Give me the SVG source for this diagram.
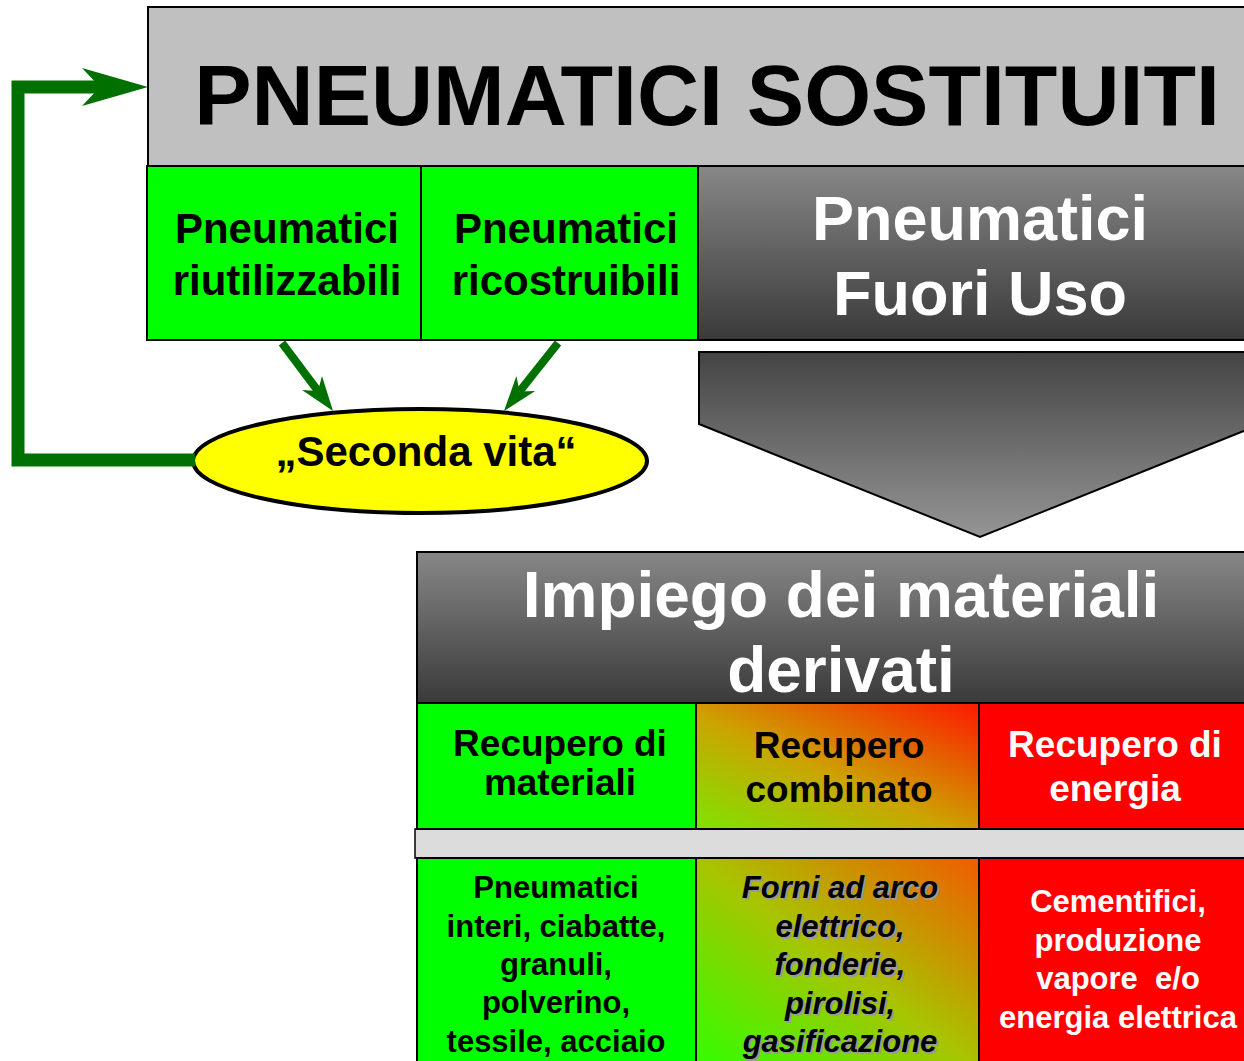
<svg xmlns="http://www.w3.org/2000/svg" width="1244" height="1061" viewBox="0 0 1244 1061">
<defs>
<linearGradient id="gDark" x1="0" y1="0" x2="0" y2="1">
<stop offset="0" stop-color="#878787"/>
<stop offset="1" stop-color="#3a3a3a"/>
</linearGradient>
<linearGradient id="gArrow" x1="0" y1="0" x2="0" y2="1">
<stop offset="0" stop-color="#444444"/>
<stop offset="1" stop-color="#959595"/>
</linearGradient>
<linearGradient id="gComb1" x1="0" y1="1" x2="1" y2="0">
<stop offset="0" stop-color="#7ee400"/>
<stop offset="0.45" stop-color="#cca400"/>
<stop offset="1" stop-color="#ff1800"/>
</linearGradient>
<linearGradient id="gComb2" x1="0" y1="1" x2="1" y2="0">
<stop offset="0" stop-color="#30ff00"/>
<stop offset="0.5" stop-color="#a8c400"/>
<stop offset="1" stop-color="#f05c00"/>
</linearGradient>
</defs>
<style>
.t{font-family:"Liberation Sans",Arial,sans-serif;font-weight:bold;text-anchor:middle}
.bx{stroke:#000;stroke-width:2}
.w{fill:#fff}
.k{fill:#000}
.sh{fill:#9a9a9a}
.conn{fill:none;stroke:#007000;stroke-linejoin:miter}
.head{fill:#007000}
</style>
<rect width="1244" height="1061" fill="#fff"/>

<g id="node-sostituiti">
<rect class="bx" x="148" y="7" width="1110" height="159" fill="#c0c0c0"/>
<text class="t k" x="707" y="125" font-size="86">PNEUMATICI SOSTITUITI</text>
</g>

<g id="node-riutilizzabili">
<rect class="bx" x="147" y="166" width="274" height="174" fill="#00ff00"/>
<text class="t k" x="287" y="243" font-size="42">Pneumatici</text>
<text class="t k" x="287" y="295" font-size="42">riutilizzabili</text>
</g>

<g id="node-ricostruibili">
<rect class="bx" x="421" y="166" width="277" height="174" fill="#00ff00"/>
<text class="t k" x="566" y="243" font-size="42">Pneumatici</text>
<text class="t k" x="566" y="295" font-size="42">ricostruibili</text>
</g>

<g id="node-fuori-uso">
<rect class="bx" x="698" y="166" width="560" height="174" fill="url(#gDark)"/>
<text class="t w" x="980" y="240" font-size="63">Pneumatici</text>
<text class="t w" x="980" y="315" font-size="63">Fuori Uso</text>
</g>

<g id="node-arrow">
<polygon class="bx" points="699,352 1261,352 1261,424 980,537 699,424" fill="url(#gArrow)"/>
</g>

<g id="node-seconda-vita">
<ellipse cx="420" cy="461" rx="227" ry="52" fill="#ffff00" stroke="#000" stroke-width="4"/>
<text class="t k" x="426" y="466" font-size="42">„Seconda vita“</text>
</g>

<g id="node-impiego">
<rect class="bx" x="417" y="552" width="841" height="151" fill="url(#gDark)"/>
<text class="t w" x="841" y="617" font-size="64">Impiego dei materiali</text>
<text class="t w" x="841" y="692" font-size="64">derivati</text>
</g>

<g id="node-strip">
<rect x="415" y="829" width="843" height="29" fill="#dcdcdc" stroke="#000" stroke-width="1.5"/>
</g>

<g id="node-rec-materiali">
<rect class="bx" x="417" y="703" width="279" height="126" fill="#00ff00"/>
<text class="t k" x="560" y="756" font-size="37">Recupero di</text>
<text class="t k" x="560" y="795" font-size="37">materiali</text>
</g>

<g id="node-rec-combinato">
<rect class="bx" x="696" y="703" width="283" height="126" fill="url(#gComb1)"/>
<text class="t k" x="839" y="758" font-size="37">Recupero</text>
<text class="t k" x="839" y="802" font-size="37">combinato</text>
</g>

<g id="node-rec-energia">
<rect class="bx" x="979" y="703" width="279" height="126" fill="#ff0000"/>
<text class="t w" x="1115" y="757" font-size="37">Recupero di</text>
<text class="t w" x="1115" y="801" font-size="37">energia</text>
</g>

<g id="node-materiali-list">
<rect class="bx" x="417" y="858" width="279" height="210" fill="#00ff00"/>
<text class="t k" x="556" y="898" font-size="31">Pneumatici</text>
<text class="t k" x="556" y="937" font-size="31">interi, ciabatte,</text>
<text class="t k" x="556" y="975" font-size="31">granuli,</text>
<text class="t k" x="556" y="1013" font-size="31">polverino,</text>
<text class="t k" x="556" y="1052" font-size="31">tessile, acciaio</text>
</g>

<g id="node-combinato-list">
<rect class="bx" x="696" y="858" width="283" height="210" fill="url(#gComb2)"/>
<g font-style="italic">
<text class="t sh" x="842" y="900" font-size="31">Forni ad arco</text>
<text class="t sh" x="842" y="939" font-size="31">elettrico,</text>
<text class="t sh" x="842" y="977" font-size="31">fonderie,</text>
<text class="t sh" x="842" y="1016" font-size="31">pirolisi,</text>
<text class="t sh" x="842" y="1054" font-size="31">gasificazione</text>
<text class="t k" x="840" y="898" font-size="31">Forni ad arco</text>
<text class="t k" x="840" y="937" font-size="31">elettrico,</text>
<text class="t k" x="840" y="975" font-size="31">fonderie,</text>
<text class="t k" x="840" y="1014" font-size="31">pirolisi,</text>
<text class="t k" x="840" y="1052" font-size="31">gasificazione</text>
</g>
</g>

<g id="node-energia-list">
<rect class="bx" x="979" y="858" width="279" height="210" fill="#ff0000"/>
<text class="t w" x="1118" y="912" font-size="31">Cementifici,</text>
<text class="t w" x="1118" y="951" font-size="31">produzione</text>
<text class="t w" x="1118" y="989" font-size="31" xml:space="preserve">vapore  e/o</text>
<text class="t w" x="1118" y="1028" font-size="31">energia elettrica</text>
</g>

<g id="connectors">
<path class="conn" d="M195,460 L18,460 L18,87 L102,87" stroke-width="13"/>
<path class="head" d="M148,87 L82,68 L100,87 L82,106 Z"/>
<path class="conn" d="M282,343 L318,391" stroke-width="8"/>
<path class="head" d="M333,411 L302,390 L318,391 L322,376 Z"/>
<path class="conn" d="M558,343 L519.5,391.4" stroke-width="8"/>
<path class="head" d="M504,411 L516.4,376.1 L519.5,391.4 L535.2,391 Z"/>
</g>
</svg>
